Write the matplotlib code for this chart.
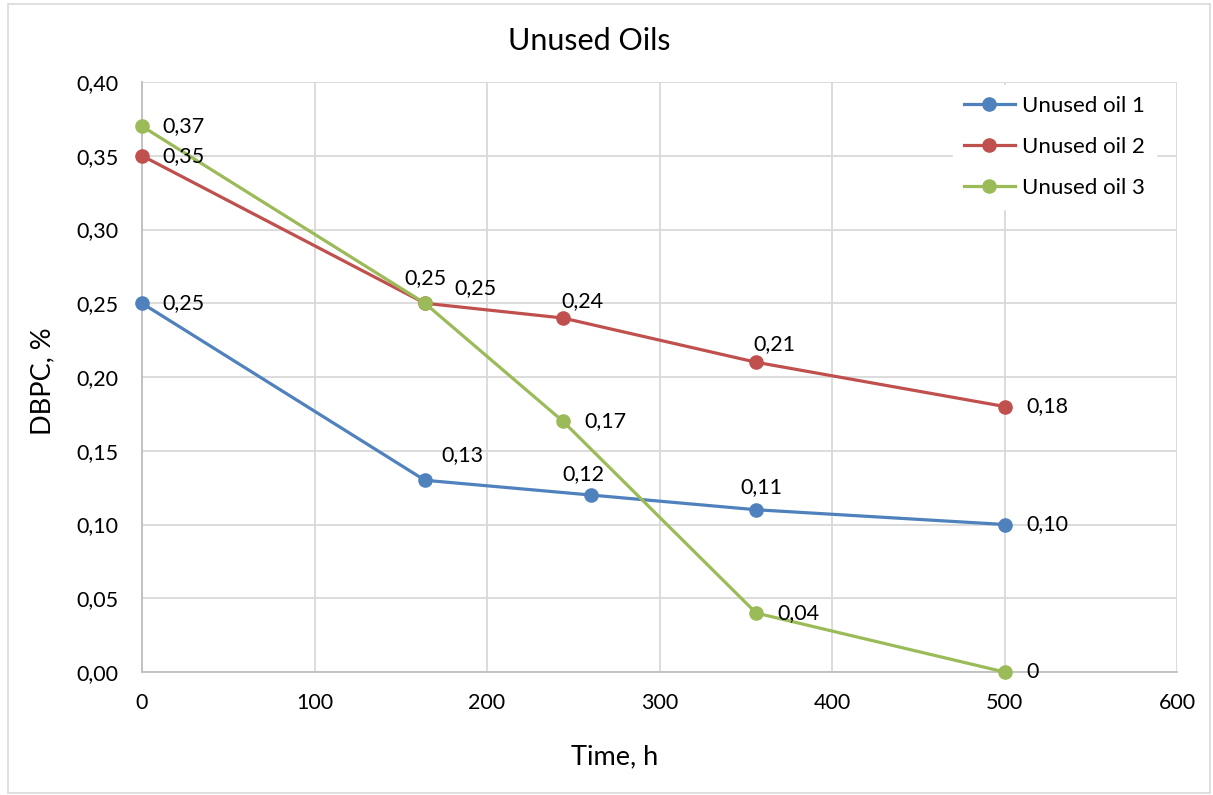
import matplotlib
matplotlib.use("Agg")
import matplotlib.pyplot as plt
from matplotlib.patches import Rectangle
from matplotlib.ticker import FuncFormatter

# Data
time_oil1 = [0, 164, 260, 356, 500]
dbpc_oil1 = [0.25, 0.13, 0.12, 0.11, 0.10]
time_oil2 = [0, 164, 244, 356, 500]
dbpc_oil2 = [0.35, 0.25, 0.24, 0.21, 0.18]
time_oil3 = [0, 164, 244, 356, 500]
dbpc_oil3 = [0.37, 0.25, 0.17, 0.04, 0.0]
series_names = ["Unused oil 1", "Unused oil 2", "Unused oil 3"]

x_ticks = [0, 100, 200, 300, 400, 500, 600]
y_ticks = [0.00, 0.05, 0.10, 0.15, 0.20, 0.25, 0.30, 0.35, 0.40]

colors = ["#4f81bd", "#c0504d", "#9bbb59"]

# Label placement per point: (dx px, dy px, horizontal alignment)
label_pos = [
    [(20, 0, "left"), (38, -25, "center"), (-7, -21, "center"), (5, -23, "center"), (22, 0, "left")],
    [(20, 0, "left"), (51, -15, "center"), (20, -17, "center"), (18, -18, "center"), (22, 0, "left")],
    [(20, 0, "left"), (1, -25, "center"), (21, 0, "left"), (21, 0, "left"), (22, 0, "left")],
]

plt.rcParams["font.family"] = ["Lato", "DejaVu Sans"]

W, H = 1213, 795
fig = plt.figure(figsize=(W / 100, H / 100), dpi=100)
ax = fig.add_axes([142 / W, 1 - 672 / H, (1177 - 142) / W, (672 - 82) / H])

grid_c = "#d9d9d9"
ax.set_xlim(0, 600)
ax.set_ylim(0, 0.40)
ax.set_xticks(x_ticks)
ax.set_yticks(y_ticks)
ax.grid(True, color=grid_c, linewidth=1.3)
ax.set_axisbelow(True)
for s in ["top", "right"]:
    ax.spines[s].set_visible(False)
for s in ["left", "bottom"]:
    ax.spines[s].set_color("#bfbfbf")
    ax.spines[s].set_linewidth(1.3)
ax.tick_params(length=0, labelsize=15.5, colors="black")
ax.tick_params(axis="y", pad=17)
ax.tick_params(axis="x", pad=15)
ax.yaxis.set_major_formatter(FuncFormatter(lambda v, p: f"{v:.2f}".replace(".", ",")))
ax.xaxis.set_major_formatter(FuncFormatter(lambda v, p: f"{int(v)}"))


def fmt(v):
    return "0" if v == 0 else f"{v:.2f}".replace(".", ",")


all_series = [(time_oil1, dbpc_oil1), (time_oil2, dbpc_oil2), (time_oil3, dbpc_oil3)]
for i, (xs, ys) in enumerate(all_series):
    ax.plot(xs, ys, color=colors[i], linewidth=2.3, marker="o", markersize=9.5,
            label=series_names[i], clip_on=False, zorder=3 + i)
    for j, (x, y) in enumerate(zip(xs, ys)):
        dx, dy, ha = label_pos[i][j]
        ax.annotate(fmt(y), (x, y), xytext=(dx * 0.72, -dy * 0.72), textcoords="offset points",
                    ha=ha, va="center", fontsize=15.5, color="black", zorder=10)

leg = ax.legend(loc="upper right", bbox_to_anchor=(0.99, 1.014), fontsize=16, frameon=True,
                fancybox=False, handlelength=2.3, handletextpad=0.3, labelspacing=0.95,
                borderpad=0.5)
leg.get_frame().set_edgecolor("white")
leg.get_frame().set_facecolor("white")
leg.get_frame().set_alpha(1.0)

ax.set_xlabel("Time, h", fontsize=19.5)
ax.xaxis.label.set_va("center")
ax.xaxis.set_label_coords((615 - 142) / 1035, (672 - 757) / 590)
ax.set_ylabel("DBPC, %", fontsize=19.5)
ax.yaxis.label.set_va("center")
ax.yaxis.set_label_coords((43 - 142) / 1035, (672 - 381) / 590)

fig.text(589 / W, 1 - 41 / H, "Unused Oils", ha="center", va="center", fontsize=22)

fig.patches.append(Rectangle((8 / W, 2 / H), (W - 11) / W, (H - 6) / H, transform=fig.transFigure,
                             fill=False, edgecolor="#d9d9d9", linewidth=1.2))

fig.savefig("out.png", dpi=100)
